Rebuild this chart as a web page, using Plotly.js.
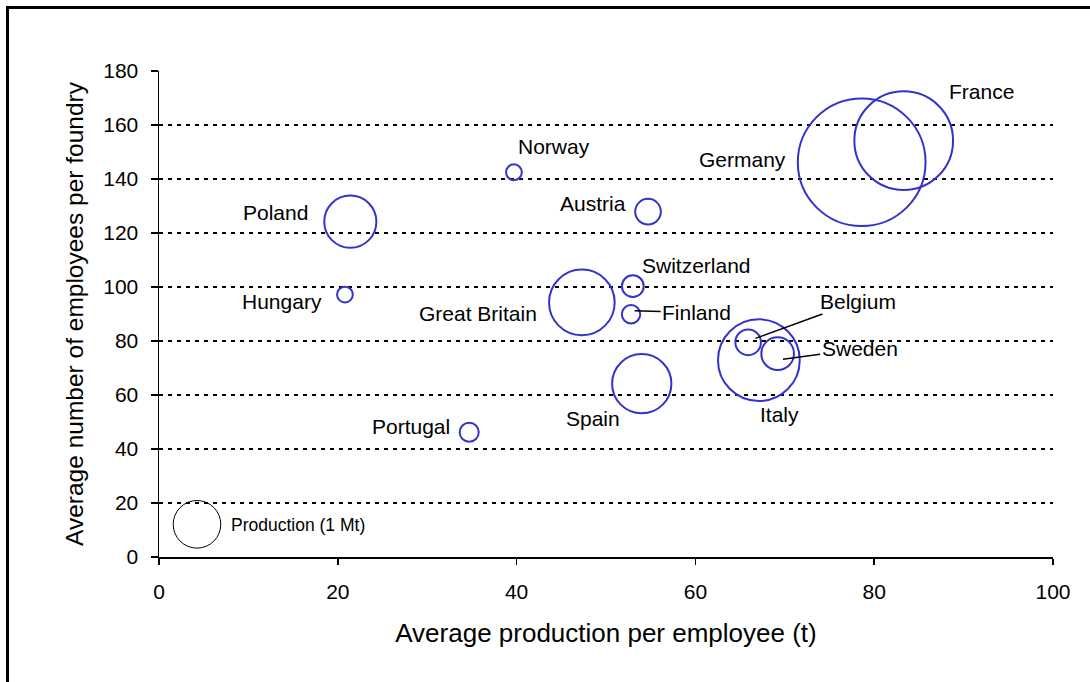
<!DOCTYPE html>
<html>
<head>
<meta charset="utf-8">
<script src="https://cdn.plot.ly/plotly-3.0.1.min.js"></script>
<style>html,body{margin:0;padding:0;background:#fff;}#chart{width:1090px;height:682px;}</style>
</head>
<body>
<div id="chart"></div>
<script>
// ---- data ----
var countries = ["Germany","France","Italy","Belgium","Sweden","Poland","Norway","Hungary","Austria","Great Britain","Switzerland","Finland","Spain","Portugal"];
var productionPerEmployee = [78.6, 83.3, 67.1, 65.9, 69.2, 21.4, 39.7, 20.8, 54.7, 47.3, 53.0, 52.8, 54.0, 34.7];
var employeesPerFoundry   = [146.2, 154.2, 72.9, 79.5, 75.3, 124.2, 142.5, 97.2, 127.9, 94.3, 100.3, 89.9, 64.2, 46.2];
var productionMt          = [7.2, 4.3, 2.95, 0.29, 0.47, 1.2, 0.11, 0.11, 0.29, 1.9, 0.21, 0.15, 1.55, 0.16];
var legendLabel = "Production (1 Mt)";
var legendX = [4.25], legendY = [12.1], legendProduction = [1];
var xTitle = "Average production per employee (t)";
var yTitle = "Average number of employees per foundry";

// ---- label placement (pixel offsets from bubble centre) ----
var labelStyle = {
  "Germany":      {xshift:-119, yshift:3},
  "France":       {xshift:78,   yshift:49},
  "Italy":        {xshift:21,   yshift:-54},
  "Poland":       {xshift:-75,  yshift:9},
  "Norway":       {xshift:40.5, yshift:25.5},
  "Hungary":      {xshift:-63,  yshift:-7},
  "Austria":      {xshift:-55,  yshift:8.4},
  "Great Britain":{xshift:-104, yshift:-11},
  "Switzerland":  {xshift:63.5, yshift:21},
  "Spain":        {xshift:-48.7,yshift:-34.6},
  "Portugal":     {xshift:-58,  yshift:5.5},
  // leader-line labels
  "Belgium":      {arrow:true, xshift:7.2, yshift:4,   ax:103,  ay:-37.3},
  "Sweden":       {arrow:true, xshift:5.3, yshift:-5.5, ax:76.7, ay:-10.3},
  "Finland":      {arrow:true, xshift:3.7, yshift:3.6,  ax:62,   ay:2}
};

var FONT = "'Liberation Sans', Arial, Helvetica, sans-serif";
var refDiameter = 47.6;               // px diameter of a 1 Mt bubble
var sizeref = 2 / (refDiameter * refDiameter);

var traces = [
  {
    type: "scatter", mode: "markers",
    x: productionPerEmployee, y: employeesPerFoundry, text: countries,
    marker: {size: productionMt, sizemode: "area", sizeref: sizeref, sizemin: 1, opacity: 1,
             color: "rgba(0,0,0,0)", line: {color: "#3333CC", width: 2}},
    hoverinfo: "skip", showlegend: false, cliponaxis: false
  },
  {
    type: "scatter", mode: "markers",
    x: legendX, y: legendY,
    marker: {size: legendProduction, sizemode: "area", sizeref: sizeref, opacity: 1,
             color: "rgba(0,0,0,0)", line: {color: "#000000", width: 1}},
    hoverinfo: "skip", showlegend: false, cliponaxis: false
  }
];

var annotations = countries.map(function(c, i) {
  var s = labelStyle[c];
  var a = {
    x: productionPerEmployee[i], y: employeesPerFoundry[i], xref: "x", yref: "y",
    text: c, font: {family: FONT, size: 21, color: "#000"},
    xshift: s.xshift, yshift: s.yshift
  };
  if (s.arrow) {
    a.showarrow = true; a.arrowhead = 0; a.arrowwidth = 1.5; a.arrowcolor = "#000";
    a.ax = s.ax; a.ay = s.ay; a.standoff = 0;
  } else {
    a.showarrow = false;
  }
  return a;
});
annotations.push({
  x: legendX[0], y: legendY[0], xref: "x", yref: "y", text: legendLabel,
  showarrow: false, xanchor: "left", xshift: 32, yshift: -0.7,
  font: {family: FONT, size: 17.5, color: "#000"}
});

var layout = {
  width: 1090, height: 682,
  margin: {l: 159, r: 37, t: 71, b: 125, pad: 0},
  paper_bgcolor: "#fff", plot_bgcolor: "#fff",
  font: {family: FONT, color: "#000"},
  showlegend: false,
  xaxis: {
    range: [0, 100], dtick: 20, tick0: 0,
    showgrid: false, zeroline: false,
    showline: true, linecolor: "#000", linewidth: 1.5,
    ticks: "outside", ticklen: 6, tickwidth: 1.5, tickcolor: "#000",
    ticklabelstandoff: 9,
    tickfont: {family: FONT, size: 21, color: "#000"},
    title: {text: xTitle, font: {family: FONT, size: 26, color: "#000"}, standoff: 22}
  },
  yaxis: {
    range: [0, 180], dtick: 20, tick0: 0,
    showgrid: true, gridcolor: "#000", gridwidth: 1.5, griddash: "4px,5px",
    zeroline: false,
    showline: true, linecolor: "#000", linewidth: 1.5,
    ticks: "outside", ticklen: 7, tickwidth: 1.5, tickcolor: "#000",
    ticklabelstandoff: 8,
    tickfont: {family: FONT, size: 21, color: "#000"},
    title: {text: yTitle, font: {family: FONT, size: 24.5, color: "#000"}, standoff: 12}
  },
  shapes: [
    {type: "rect", xref: "paper", yref: "paper",
     x0: (7.5 - 159) / 894, x1: 1.5, y0: -0.6, y1: (557 - 7.5) / 486,
     line: {color: "#000", width: 3}, fillcolor: "rgba(0,0,0,0)", layer: "below"}
  ],
  annotations: annotations
};

Plotly.newPlot("chart", traces, layout, {staticPlot: true, displayModeBar: false});
</script>
</body>
</html>
